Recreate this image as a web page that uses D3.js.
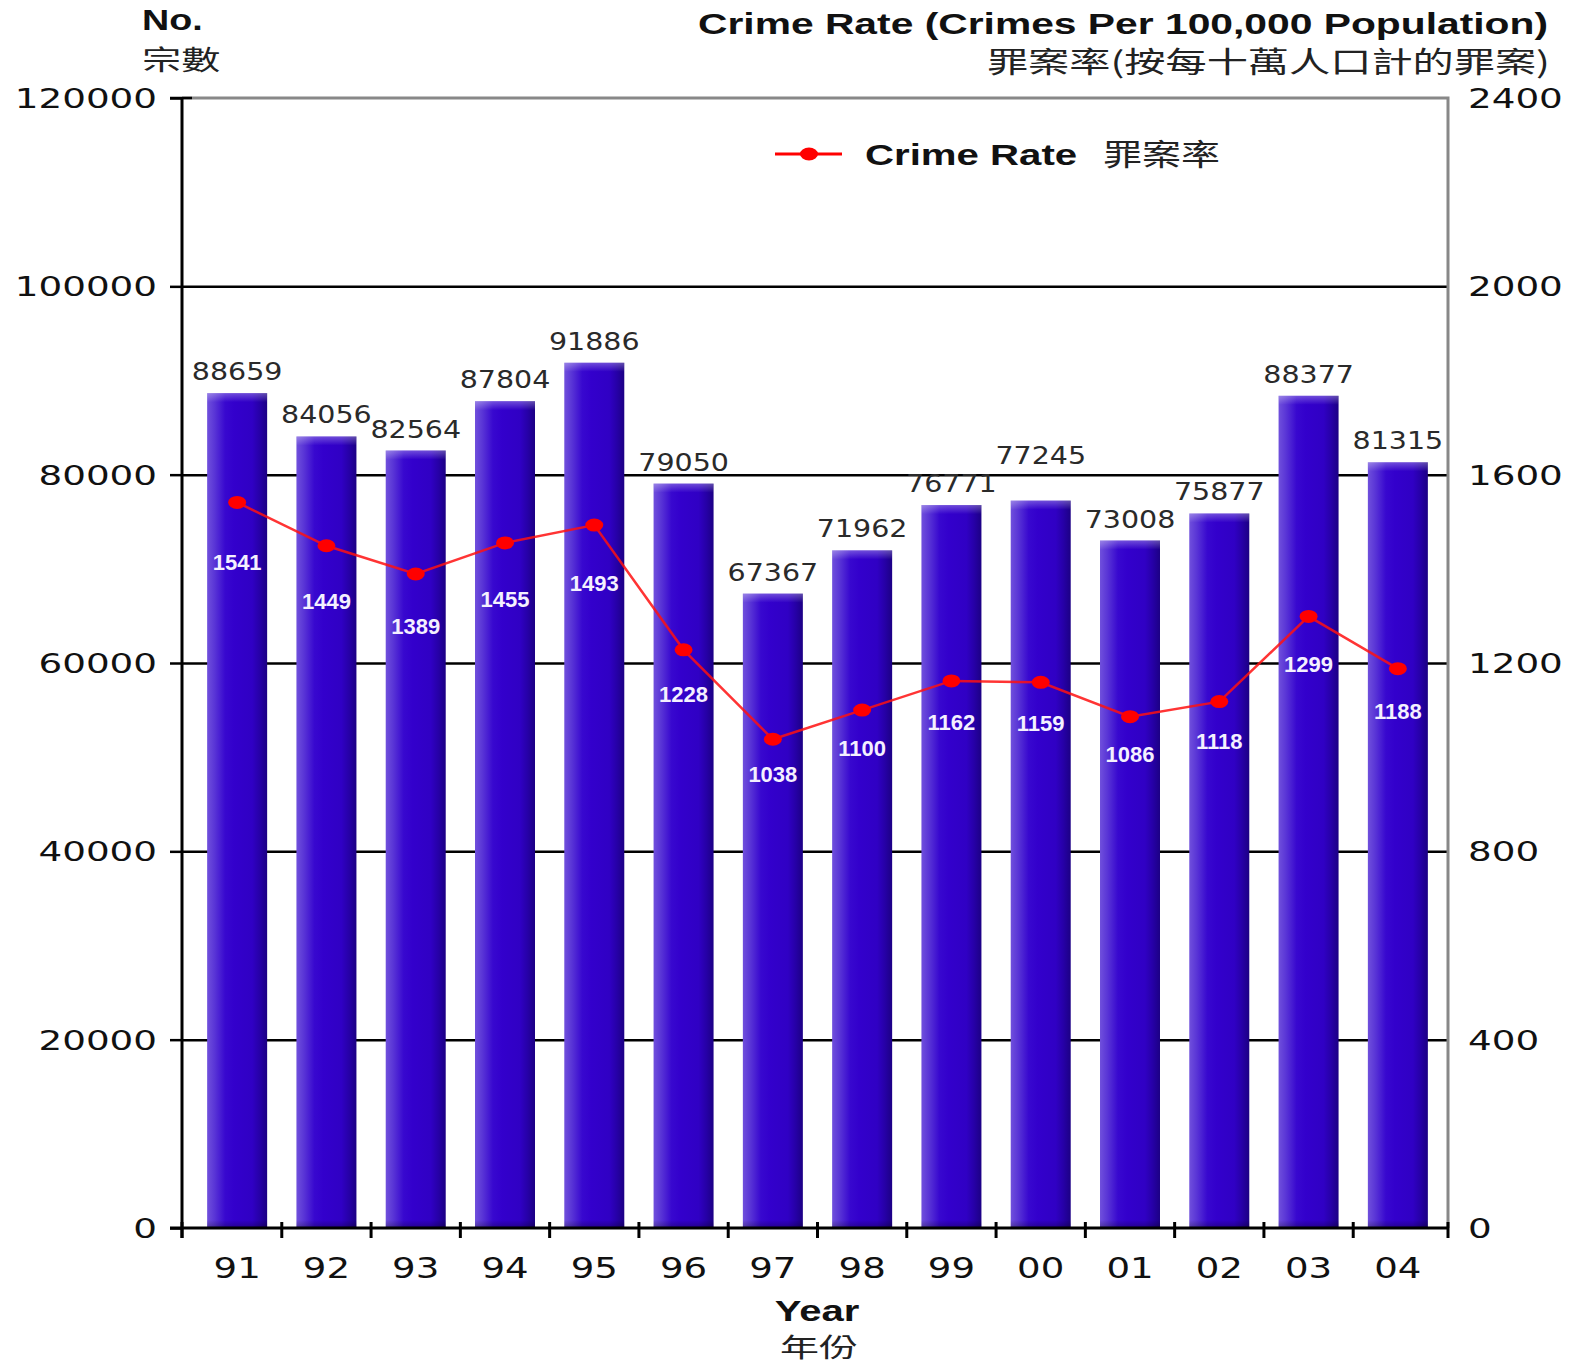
<!DOCTYPE html>
<html>
<head>
<meta charset="utf-8">
<script src="https://cdn.jsdelivr.net/npm/d3@7"></script>
<style>
  html, body { margin: 0; padding: 0; background: #ffffff; }
  svg { display: block; }
</style>
</head>
<body>
<div id="chart"></div>
<script>
// Hong Kong reported crimes and crime rate, 1991-2004
const years = ["91", "92", "93", "94", "95", "96", "97", "98", "99", "00", "01", "02", "03", "04"];
const crimes = [88659, 84056, 82564, 87804, 91886, 79050, 67367, 71962, 76771, 77245, 73008, 75877, 88377, 81315];
const rates = [1541, 1449, 1389, 1455, 1493, 1228, 1038, 1100, 1162, 1159, 1086, 1118, 1299, 1188];
const countTicks = [0, 20000, 40000, 60000, 80000, 100000, 120000];
const rateTicks = [0, 400, 800, 1200, 1600, 2000, 2400];

const W = 1569, H = 1367;
const plot = { left: 182, right: 1448, top: 98, bottom: 1228 };

const LATIN = "'DejaVu Sans', Verdana, sans-serif";
const BOLD = "'Liberation Sans', Arial, sans-serif";
const CJK = "'Noto Sans CJK TC', 'Noto Sans CJK SC', sans-serif";

const svg = d3.select("#chart").append("svg")
  .attr("width", W).attr("height", H)
  .attr("viewBox", `0 0 ${W} ${H}`);

const defs = svg.append("defs");
const barGrad = defs.append("linearGradient").attr("id", "barFill")
  .attr("x1", "0%").attr("x2", "100%").attr("y1", "0%").attr("y2", "0%");
[["0%", "#7050dc"], ["12%", "#5a36d6"], ["30%", "#3808cf"], ["45%", "#3300cc"],
 ["75%", "#3000c4"], ["88%", "#2600a6"], ["100%", "#1c0084"]]
  .forEach(([o, c]) => barGrad.append("stop").attr("offset", o).attr("stop-color", c));
const capGrad = defs.append("linearGradient").attr("id", "barCap")
  .attr("x1", "0%").attr("x2", "0%").attr("y1", "0%").attr("y2", "100%");
capGrad.append("stop").attr("offset", "0%").attr("stop-color", "#ffffff").attr("stop-opacity", 0.3);
capGrad.append("stop").attr("offset", "100%").attr("stop-color", "#ffffff").attr("stop-opacity", 0);
const footGrad = defs.append("linearGradient").attr("id", "barFoot")
  .attr("x1", "0%").attr("x2", "0%").attr("y1", "0%").attr("y2", "100%");
footGrad.append("stop").attr("offset", "0%").attr("stop-color", "#000000").attr("stop-opacity", 0);
footGrad.append("stop").attr("offset", "100%").attr("stop-color", "#000000").attr("stop-opacity", 0.3);

// Scales
const x = d3.scaleBand().domain(years)
  .range([192.5, 1442.5]).paddingInner(0.328).paddingOuter(0.164);
const yL = d3.scaleLinear().domain([0, 120000]).range([plot.bottom, plot.top]);
const yR = d3.scaleLinear().domain([0, 2400]).range([plot.bottom, plot.top]);

// Horizontally widened text helper
function wideText(parent, str, px, py, o) {
  return parent.append("text")
    .attr("transform", `translate(${px},${py}) scale(${o.sx || 1},1)`)
    .attr("font-family", o.family || LATIN)
    .attr("font-size", o.size)
    .attr("font-weight", o.weight || "normal")
    .attr("text-anchor", o.anchor || "start")
    .attr("fill", o.fill || "#111")
    .text(str);
}

// Gridlines
svg.append("g")
  .attr("transform", `translate(${plot.left},0)`)
  .call(d3.axisLeft(yL).tickValues(countTicks.filter(v => v > 0 && v < 120000))
    .tickSize(-(plot.right - plot.left)).tickFormat(""))
  .call(g => g.select(".domain").remove())
  .call(g => g.selectAll("line").attr("stroke", "#000").attr("stroke-width", 2.5));

// Frame: grey top and right edges
svg.append("path")
  .attr("d", `M${plot.left},${plot.top}H${plot.right}V${plot.bottom}`)
  .attr("fill", "none").attr("stroke", "#888").attr("stroke-width", 3);

// Bars
const bars = svg.append("g");
years.forEach((yr, i) => {
  const bx = x(yr), bw = x.bandwidth();
  const top = yL(crimes[i]);
  const h = plot.bottom - top;
  bars.append("rect").attr("x", bx).attr("y", top).attr("width", bw).attr("height", h)
    .attr("fill", "url(#barFill)");
  bars.append("rect").attr("x", bx).attr("y", top).attr("width", bw).attr("height", 9)
    .attr("fill", "url(#barCap)");
  bars.append("rect").attr("x", bx).attr("y", plot.bottom - 8).attr("width", bw).attr("height", 8)
    .attr("fill", "url(#barFoot)");
});

// Count labels above bars
const countLabels = svg.append("g");
let prevY = null;
years.forEach((yr, i) => {
  let ly = yL(crimes[i]) - 22;
  if (prevY !== null && Math.abs(ly - prevY) < 8) ly = prevY - 28;
  prevY = ly;
  wideText(countLabels, crimes[i], x(yr) + x.bandwidth() / 2, ly + 9,
    { size: 25, sx: 1.14, anchor: "middle", fill: "#2a2a2a" });
});

// Crime rate line
const cx = d => x(d) + x.bandwidth() / 2;
const line = d3.line().x((d, i) => cx(years[i])).y(d => yR(d));
svg.append("path").datum(rates)
  .attr("d", line)
  .attr("fill", "none").attr("stroke", "#ff1010").attr("stroke-opacity", 0.85)
  .attr("stroke-width", 2.5);
svg.append("g").selectAll("ellipse").data(rates).join("ellipse")
  .attr("cx", (d, i) => cx(years[i])).attr("cy", d => yR(d))
  .attr("rx", 9).attr("ry", 6.5).attr("fill", "#ff0000");

// Rate labels inside bars
const rateLabels = svg.append("g");
rates.forEach((r, i) => {
  const ly = yR(r) + 38 + 0.05 * (r - 1100);
  rateLabels.append("text")
    .attr("x", cx(years[i])).attr("y", ly + 8)
    .attr("text-anchor", "middle")
    .attr("font-family", BOLD).attr("font-weight", "bold").attr("font-size", 22)
    .attr("fill", "#f4f0ff")
    .text(r);
});

// Left axis
svg.append("g")
  .attr("transform", `translate(${plot.left},0)`)
  .call(d3.axisLeft(yL).tickValues(countTicks).tickSize(12).tickFormat(d3.format("d")))
  .call(g => g.select(".domain").remove())
  .call(g => g.selectAll("line").attr("stroke", "#000").attr("stroke-width", 2.5))
  .call(g => g.selectAll("text")
    .attr("x", null).attr("dy", null)
    .attr("transform", "translate(-25,9.5) scale(1.38,1)")
    .attr("font-family", LATIN).attr("font-size", 27).attr("fill", "#111")
    .attr("text-anchor", "end"));

// Right axis
svg.append("g")
  .attr("transform", `translate(${plot.right},0)`)
  .call(d3.axisRight(yR).tickValues(rateTicks).tickSize(0).tickFormat(d3.format("d")))
  .call(g => g.select(".domain").remove())
  .call(g => g.selectAll("text")
    .attr("x", null).attr("dy", null)
    .attr("transform", "translate(20,9.5) scale(1.38,1)")
    .attr("font-family", LATIN).attr("font-size", 27).attr("fill", "#111")
    .attr("text-anchor", "start"));

// Bottom axis with year labels at bar centres
svg.append("g")
  .attr("transform", `translate(0,${plot.bottom})`)
  .call(d3.axisBottom(x).tickSize(0))
  .call(g => g.select(".domain").remove())
  .call(g => g.selectAll("text")
    .attr("y", null).attr("dy", null)
    .attr("transform", "translate(0,50) scale(1.28,1)")
    .attr("font-family", LATIN).attr("font-size", 29).attr("fill", "#111"));

// Category boundary ticks
const boundaries = [plot.left].concat(years.slice(1).map(d => x(d) - x.step() * x.paddingInner() / 2), [plot.right]);
svg.append("g").selectAll("line").data(boundaries).join("line")
  .attr("x1", d => d).attr("x2", d => d)
  .attr("y1", plot.bottom - 6).attr("y2", plot.bottom + 10)
  .attr("stroke", "#000").attr("stroke-width", 3);

// Axis lines
svg.append("line").attr("x1", plot.left).attr("x2", plot.left)
  .attr("y1", plot.top).attr("y2", plot.bottom + 10)
  .attr("stroke", "#000").attr("stroke-width", 3);
svg.append("line").attr("x1", plot.left - 12).attr("x2", plot.right + 1)
  .attr("y1", plot.bottom).attr("y2", plot.bottom)
  .attr("stroke", "#000").attr("stroke-width", 3);
svg.append("line").attr("x1", plot.left - 12).attr("x2", plot.left + 10)
  .attr("y1", plot.top).attr("y2", plot.top)
  .attr("stroke", "#000").attr("stroke-width", 2.5);

// Axis titles
wideText(svg, "No.", 142, 30, { family: BOLD, weight: "bold", size: 29, sx: 1.3 });
wideText(svg, "宗數", 142, 70, { family: CJK, size: 27, sx: 1.45, fill: "#222" });
wideText(svg, "Crime Rate (Crimes Per 100,000 Population)", 1548, 34,
  { family: BOLD, weight: "bold", size: 30, sx: 1.36, anchor: "end" });
wideText(svg, "罪案率(按每十萬人口計的罪案)", 1550, 73,
  { family: CJK, size: 29, sx: 1.42, anchor: "end", fill: "#222" });
wideText(svg, "Year", 817, 1321, { family: BOLD, weight: "bold", size: 29, sx: 1.38, anchor: "middle" });
wideText(svg, "年份", 819, 1357, { family: CJK, size: 26, sx: 1.5, anchor: "middle", fill: "#222" });

// Legend
const legend = svg.append("g");
legend.append("line").attr("x1", 775).attr("x2", 842).attr("y1", 154).attr("y2", 154)
  .attr("stroke", "#ff0000").attr("stroke-width", 3);
legend.append("ellipse").attr("cx", 809).attr("cy", 154).attr("rx", 9).attr("ry", 6.5)
  .attr("fill", "#ff0000");
wideText(legend, "Crime Rate", 865, 165, { family: BOLD, weight: "bold", size: 30, sx: 1.34 });
wideText(legend, "罪案率", 1103, 165, { family: CJK, size: 30, sx: 1.3, fill: "#222" });
</script>
</body>
</html>
